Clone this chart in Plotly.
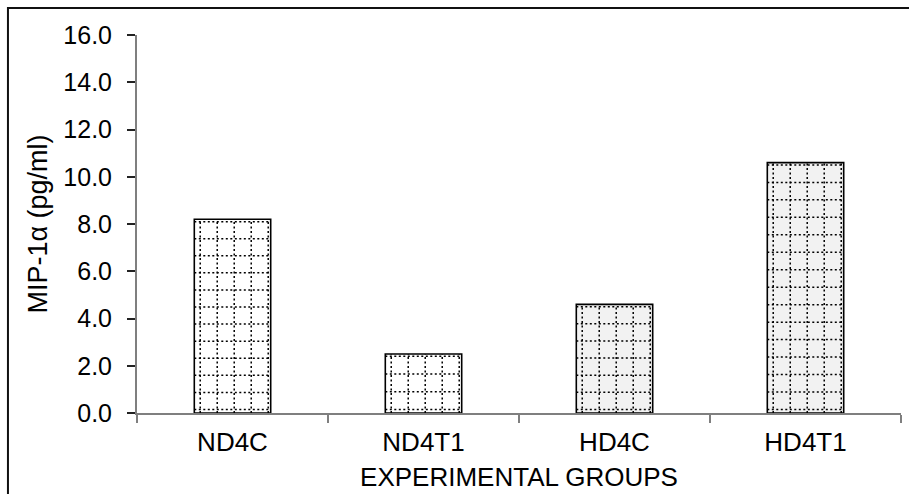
import plotly.graph_objects as go

# MIP-1α concentration per experimental group
groups = ["ND4C", "ND4T1", "HD4C", "HD4T1"]
mip1a = [8.2, 2.5, 4.6, 10.6]
bar_fill = ["#ffffff", "#ffffff", "#f2f2f2", "#f2f2f2"]
y_ticks = [0, 2, 4, 6, 8, 10, 12, 14, 16]

FONT = "Liberation Sans, Arial, sans-serif"
BAR_WIDTH = 0.4

fig = go.Figure(
    go.Bar(
        x=groups,
        y=mip1a,
        width=BAR_WIDTH,
        marker=dict(color=bar_fill, line=dict(color="#000000", width=1.6)),
        showlegend=False,
    )
)

# dotted grid fill inside each bar, laid out from the bar's own value
dot_line = dict(color="#000000", width=1.5, dash="2px,2.5px")
shapes = []
for i, v in enumerate(mip1a):
    left = i - BAR_WIDTH / 2
    # vertical dotted lines: five columns across the bar
    for k in range(5):
        xv = left + 0.031 + k * 0.089
        shapes.append(dict(type="line", xref="x", yref="y", x0=xv, x1=xv,
                           y0=0, y1=v, line=dot_line))
    # horizontal dotted lines: evenly spaced rows of roughly 0.72 units
    lo, hi = 0.15, v - 0.1
    rows = max(1, round((hi - lo) / 0.72))
    for r in range(rows + 1):
        yv = lo + (hi - lo) * r / rows
        shapes.append(dict(type="line", xref="x", yref="y", x0=left, x1=left + BAR_WIDTH,
                           y0=yv, y1=yv, line=dot_line))

# frame around the chart area
shapes.append(dict(
    type="path", xref="paper", yref="paper",
    path="M 1.05,1.0714 L -0.1689,1.0714 L -0.1689,-0.3",
    line=dict(color="#111111", width=2),
))

fig.update_layout(
    width=909,
    height=494,
    margin=dict(l=137, r=8, t=35, b=81),
    paper_bgcolor="#ffffff",
    plot_bgcolor="#ffffff",
    font=dict(family=FONT, size=25, color="#000000"),
    shapes=shapes,
)

fig.update_xaxes(
    type="category",
    range=[-0.5, 3.5],
    automargin=False,
    showline=True,
    linecolor="#7f7f7f",
    linewidth=2,
    ticks="outside",
    tickson="boundaries",
    ticklen=8,
    tickcolor="#7f7f7f",
    tickwidth=1.5,
    showgrid=False,
    ticklabelstandoff=5,
    tickfont=dict(size=26),
    title=dict(text="EXPERIMENTAL GROUPS", font=dict(size=26), standoff=12),
)

fig.update_yaxes(
    range=[0, 16],
    automargin=False,
    tickvals=y_ticks,
    tickformat=".1f",
    showline=True,
    linecolor="#7f7f7f",
    linewidth=2,
    ticks="outside",
    ticklen=8,
    tickcolor="#222222",
    tickwidth=1.5,
    showgrid=False,
    zeroline=False,
    ticklabelstandoff=10,
    tickfont=dict(size=25),
    title=dict(text="MIP-1α (pg/ml)", font=dict(size=27), standoff=8),
)

fig.write_html("out.html")
